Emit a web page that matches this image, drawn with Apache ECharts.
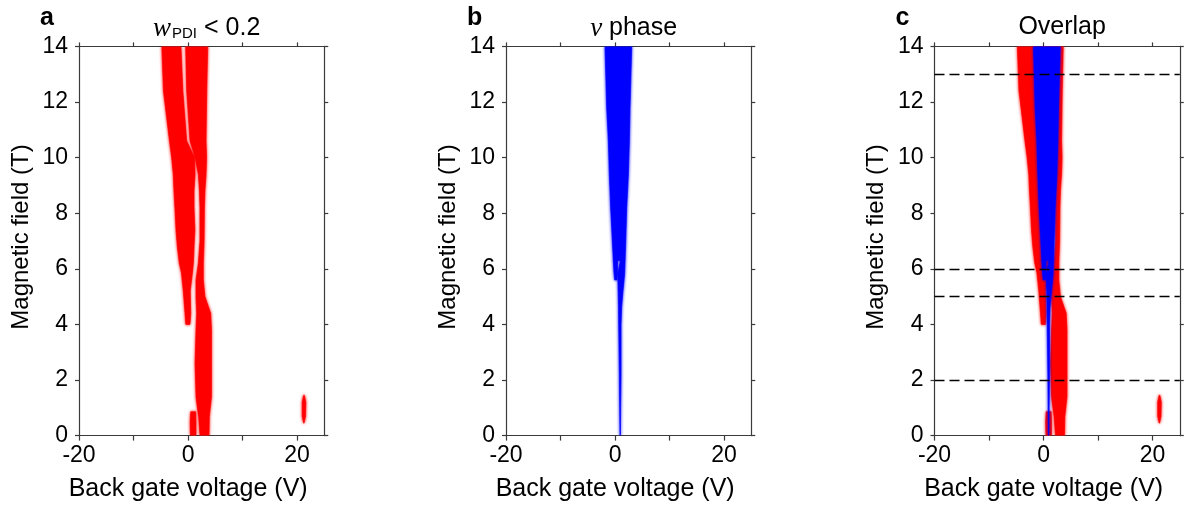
<!DOCTYPE html>
<html>
<head>
<meta charset="utf-8">
<script src="https://cdn.jsdelivr.net/npm/echarts@6/dist/echarts.min.js"></script>
<style>
html,body{margin:0;padding:0;background:#fff;}
#chart{width:1187px;height:510px;}
</style>
</head>
<body>
<div id="chart"></div>
<script>
// ---- data: boundaries of coloured regions, rows are [B (T), V_left (V), V_right (V)] ----
const redLeftBand = [
  [14, -4.8, -1.3], [12.4, -4.5, -0.95], [10.6, -3.4, -0.25], [10.0, -3.0, 1.2],
  [9.4, -2.7, 1.28], [8.8, -2.57, 1.1], [8.2, -2.4, 1.1], [7.4, -2.2, 1.25],
  [6.8, -1.96, 1.1], [6.2, -1.6, 0.98], [5.85, -1.2, 0.8], [5.2, -0.86, 0.4],
  [4.4, -0.55, 0.49], [4.0, -0.4, 0.35]
];
const redRightBand = [
  [14, -0.43, 3.61], [12.4, -0.24, 3.43], [10.6, 0.37, 3.3], [10.0, 1.3, 3.4],
  [9.4, 1.9, 3.3], [8.8, 2.1, 3.1], [8.2, 2.2, 3.0], [7.0, 2.2, 2.94],
  [6.2, 1.9, 2.8], [5.6, 1.47, 2.8], [5.0, 1.47, 3.1], [4.4, 1.6, 4.16],
  [3.8, 1.47, 4.3], [2.6, 1.3, 4.3], [1.4, 1.47, 4.3], [1.03, 1.7, 4.1],
  [0.67, 1.96, 3.9], [0, 2.2, 3.85]
];
const redBottomBlob = [[0.86, 0.5, 1.4], [0.5, 0.4, 1.45], [0, 0.45, 1.45]];
const redSideBlob = [[1.45, 21.2, 21.35], [1.2, 20.95, 21.6], [0.7, 20.95, 21.55], [0.45, 21.2, 21.3]];
const blueMainBand = [
  [14, -1.83, 3.06], [11.8, -1.53, 2.75], [10.6, -1.22, 2.63], [9.4, -1.04, 2.45],
  [8.2, -0.8, 2.14], [7.0, -0.49, 1.96], [6.3, -0.3, 1.84]
];
const blueLobe = [[6.3, -0.3, 0.45], [5.9, -0.2, 0.45], [5.6, -0.05, 0.35]];
const blueTail = [
  [6.3, 1.0, 1.84], [5.8, 0.5, 1.75], [5.1, 0.6, 1.41], [4.6, 0.65, 1.2],
  [4.0, 0.68, 1.1], [2.2, 0.8, 1.1], [1.0, 0.85, 1.03], [0, 0.9, 1.0]
];
const guideFields = [13, 6, 5, 2];
const xTicks = [-20, -10, 0, 10, 20];
const xLabels = [-20, 0, 20];
const panelLetters = ['a', 'b', 'c'];

const FONT = 'Liberation Sans';
const AXC = '#3a3a3a';
const grids = [
  {left: 79, top: 46.4, width: 245.3, height: 389.2},
  {left: 506, top: 46.4, width: 245.3, height: 389.2},
  {left: 934.5, top: 46.4, width: 245.3, height: 389.2}
];

const lineStyleAx = {color: AXC, width: 1.2};
const xAxes = [], yAxes = [];
grids.forEach((g, i) => {
  xAxes.push({
    gridIndex: i, type: 'value', min: -20, max: 25, position: 'bottom',
    axisLine: {show: true, onZero: false, lineStyle: lineStyleAx},
    axisTick: {show: true, customValues: xTicks, length: 5, lineStyle: lineStyleAx},
    axisLabel: {customValues: xLabels, fontSize: 23, color: '#000', fontFamily: FONT, margin: 9},
    splitLine: {show: false},
    name: 'Back gate voltage (V)', nameLocation: 'middle', nameGap: 41,
    nameTextStyle: {fontSize: 25, color: '#000', fontFamily: FONT, padding: [0, 27, 0, 0]}
  });
  xAxes.push({
    gridIndex: i, type: 'value', min: -20, max: 25, position: 'top',
    axisLine: {show: true, onZero: false, lineStyle: lineStyleAx},
    axisTick: {show: true, customValues: xTicks, length: 4, lineStyle: lineStyleAx},
    axisLabel: {show: false}, splitLine: {show: false}
  });
  yAxes.push({
    gridIndex: i, type: 'value', min: 0, max: 14, interval: 2, position: 'left',
    axisLine: {show: true, onZero: false, lineStyle: lineStyleAx},
    axisTick: {show: true, length: 4, lineStyle: lineStyleAx},
    axisLabel: {fontSize: 23, color: '#000', fontFamily: FONT, margin: 11},
    splitLine: {show: false},
    name: 'Magnetic field (T)', nameLocation: 'middle', nameGap: 46,
    nameTextStyle: {fontSize: 24, color: '#000', fontFamily: FONT, padding: [0, 0, 0, 8]}
  });
  yAxes.push({
    gridIndex: i, type: 'value', min: 0, max: 14, interval: 2, position: 'right',
    axisLine: {show: true, onZero: false, lineStyle: lineStyleAx},
    axisTick: {show: true, length: 4, lineStyle: lineStyleAx},
    axisLabel: {show: false}, splitLine: {show: false}
  });
});

function band(rows, color, panel, z) {
  return {
    type: 'custom', xAxisIndex: panel * 2, yAxisIndex: panel * 2, z: z || 2,
    clip: true, silent: true,
    data: [[rows[0][1], rows[0][0]]],
    renderItem: function (params, api) {
      const left = rows.map(r => api.coord([r[1], r[0]]));
      const right = rows.slice().reverse().map(r => api.coord([r[2], r[0]]));
      return {
        type: 'polygon',
        shape: {points: left.concat(right)},
        style: {fill: color, stroke: color, lineWidth: 0.6, shadowBlur: 3, shadowColor: color}
      };
    }
  };
}

const RED = '#ff0000', BLUE = '#0000ff';
const redSets = [redLeftBand, redRightBand, redBottomBlob, redSideBlob];
const blueSets = [blueMainBand, blueLobe, blueTail];
const series = [];
redSets.forEach(r => series.push(band(r, RED, 0, 2)));
blueSets.forEach(r => series.push(band(r, BLUE, 1, 2)));
redSets.forEach(r => series.push(band(r, RED, 2, 2)));
blueSets.forEach(r => series.push(band(r, BLUE, 2, 3)));
series.push({
  type: 'line', xAxisIndex: 4, yAxisIndex: 4, data: [], z: 5, silent: true,
  markLine: {
    silent: true, symbol: ['none', 'none'], label: {show: false},
    lineStyle: {color: '#000', type: [10, 5], width: 1.3},
    animation: false,
    data: guideFields.map(v => ({yAxis: v}))
  }
});

const titles = [];
grids.forEach((g, i) => {
  titles.push({
    text: panelLetters[i], left: g.left - 44, top: 1,
    textStyle: {fontSize: 25, fontWeight: 'bold', color: '#000', fontFamily: FONT}
  });
});
titles.push({
  text: '{w|w}{s|PDI}{n| < 0.2}', left: grids[0].left + grids[0].width / 2, textAlign: 'center', top: 10,
  textStyle: {
    fontWeight: 'normal',
    rich: {
      w: {fontSize: 27, fontStyle: 'italic', fontWeight: 'normal', fontFamily: 'Liberation Serif', color: '#000'},
      s: {fontSize: 15, fontWeight: 'normal', fontFamily: FONT, color: '#000', padding: [11, 0, 0, 1]},
      n: {fontSize: 25, fontWeight: 'normal', fontFamily: FONT, color: '#000'}
    }
  }
});
titles.push({
  text: '{v|\u03bd}{n| phase}', left: grids[1].left + grids[1].width / 2, textAlign: 'center', top: 10,
  textStyle: {
    fontWeight: 'normal',
    rich: {
      v: {fontSize: 27, fontStyle: 'italic', fontWeight: 'normal', fontFamily: 'Liberation Serif', color: '#000'},
      n: {fontSize: 25, fontWeight: 'normal', fontFamily: FONT, color: '#000'}
    }
  }
});
titles.push({
  text: 'Overlap', left: grids[2].left + grids[2].width / 2, textAlign: 'center', top: 10,
  textStyle: {fontSize: 25, fontWeight: 'normal', color: '#000', fontFamily: FONT}
});

const chart = echarts.init(document.getElementById('chart'), null, {renderer: 'canvas'});
chart.setOption({
  animation: false,
  backgroundColor: '#fff',
  title: titles,
  grid: grids,
  xAxis: xAxes,
  yAxis: yAxes,
  series: series
});
</script>
</body>
</html>
